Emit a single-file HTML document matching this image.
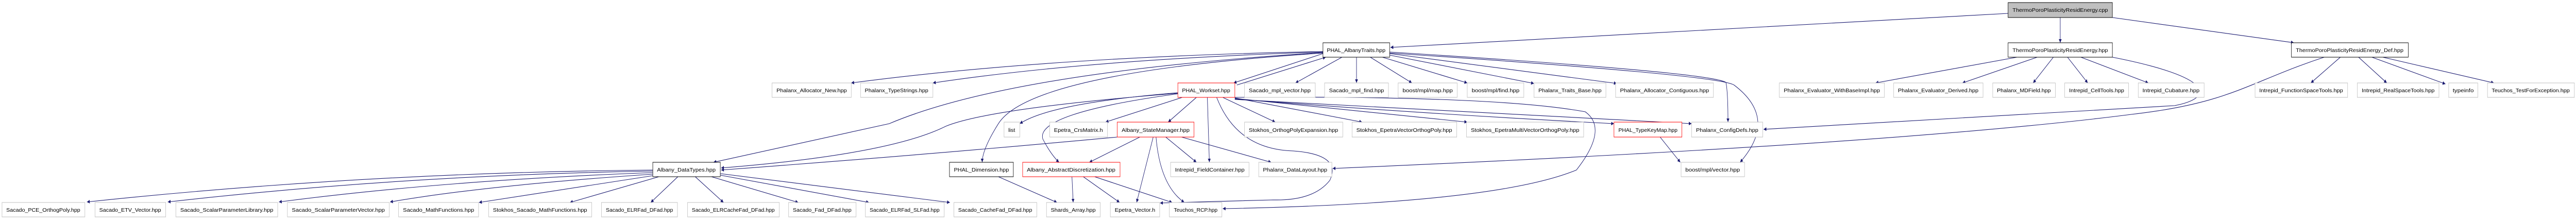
<!DOCTYPE html>
<html><head><meta charset="utf-8"><style>
html,body{margin:0;padding:0;background:#fff;width:100%;height:100%;overflow:hidden;}
svg{display:block;width:100vw;height:100vh;}
text{font-family:"Liberation Sans",sans-serif;font-size:10px;fill:#000;}
.g{fill:#fff;stroke:#bfbfbf;stroke-width:1;}
.b{fill:#fff;stroke:#000;stroke-width:1;}
.r{fill:#fff;stroke:#ff0000;stroke-width:1;}
.e{fill:none;stroke:#191970;stroke-width:1.1;marker-end:url(#a);}
</style></head><body>
<svg viewBox="0 0 6373 427" preserveAspectRatio="none" xmlns="http://www.w3.org/2000/svg">
<defs><marker id="a" viewBox="0 0 10 10" refX="10" refY="5" markerWidth="7" markerHeight="7" markerUnits="userSpaceOnUse" orient="auto"><path d="M0,0L10,5L0,10z" fill="#191970"/></marker></defs>

<path class="e" d="M4968,26 L3440,92"/>
<path class="e" d="M5097,34 L5097,83"/>
<path class="e" d="M5226,34 L5675,83"/>
<path class="e" d="M4990,111 L4640,161"/>
<path class="e" d="M5040,111 L4855,161"/>
<path class="e" d="M5080,111 L5030,161"/>
<path class="e" d="M5115,111 L5165,161"/>
<path class="e" d="M5148,111 L5315,161"/>
<path class="e" d="M5226,111 C5480,150 5480,190 5380,205 L4363,251"/>
<path class="e" d="M5750,111 C5560,160 5520,200 5273,222 Q4700,280 3297,327"/>
<path class="e" d="M5790,111 L5717,161"/>
<path class="e" d="M5835,111 L5905,161"/>
<path class="e" d="M5868,111 L6050,163"/>
<path class="e" d="M5895,111 L6170,161"/>

<path class="e" d="M3320,111 L3205,161"/>
<path class="e" d="M3356,111 L3356,161"/>
<path class="e" d="M3390,111 L3493,161"/>
<path class="e" d="M3420,111 L3630,161"/>
<path class="e" d="M3438,107 L3795,162"/>
<path class="e" d="M3438,104 L4000,162"/>
<path class="e" d="M3438,101 Q4230,140 4270,160 Q4275,180 4275,237"/>
<path class="e" d="M3438,103 Q4250,145 4290,165 Q4400,230 4305,315"/>
<path class="e" d="M3273,104 L3052,161"/>
<path class="e" d="M3060,165 L3280,111"/>
<path class="e" d="M3273,100 Q2600,110 2106,161"/>
<path class="e" d="M3273,101 Q2700,115 2308,161"/>
<path class="e" d="M3273,102 Q2500,140 2200,240 L1765,315"/>
<path class="e" d="M3273,103 Q2550,140 2470,240 Q2430,290 2430,315"/>

<path class="e" d="M2914,180 Q2600,200 2523,240"/>
<path class="e" d="M2925,189 L2735,237"/>
<path class="e" d="M2960,189 L2890,237"/>
<path class="e" d="M2987,189 L2992,315"/>
<path class="e" d="M3025,189 L3155,237"/>
<path class="e" d="M3055,190 L3370,237"/>
<path class="e" d="M3055,191 L3630,237"/>
<path class="e" d="M3055,192 Q3500,220 3993,240"/>
<path class="e" d="M3055,193 Q3500,212 4185,240"/>
<path class="e" d="M2914,182 Q2560,220 2580,270 Q2600,300 2620,315"/>
<path class="e" d="M2914,181 Q2450,210 2340,245 Q2200,300 1784,326"/>
<path class="e" d="M3010,189 Q3060,290 3200,293 Q3320,300 3290,350 Q3250,390 3150,388 L2870,394"/>
<path class="e" d="M3055,189 Q3700,185 3922,217 Q3980,250 3900,330 Q3700,395 3025,405"/>

<path class="e" d="M2764,266 Q2300,300 1784,330"/>
<path class="e" d="M2820,266 L2695,315"/>
<path class="e" d="M2853,266 L2812,393"/>
<path class="e" d="M2860,266 Q2870,360 2930,393"/>
<path class="e" d="M2884,266 L2960,315"/>
<path class="e" d="M2923,266 L3145,315"/>
<path class="e" d="M2652,343 L2655,393"/>
<path class="e" d="M2680,343 L2770,393"/>
<path class="e" d="M2708,343 L2900,393"/>
<path class="e" d="M2470,343 L2615,393"/>
<path class="e" d="M4107,266 L4157,315"/>

<path class="e" d="M1615,330 Q900,335 215,392"/>
<path class="e" d="M1615,332 Q1000,340 415,392"/>
<path class="e" d="M1615,335 Q1100,350 690,392"/>
<path class="e" d="M1615,338 Q1200,360 965,392"/>
<path class="e" d="M1615,341 L1185,393"/>
<path class="e" d="M1630,343 L1410,393"/>
<path class="e" d="M1677,343 L1610,393"/>
<path class="e" d="M1720,343 L1790,393"/>
<path class="e" d="M1760,343 L1975,393"/>
<path class="e" d="M1782,340 L2150,393"/>
<path class="e" d="M1782,337 L2350,393"/>

<rect x="4968" y="5" width="258" height="29" fill="#bfbfbf" stroke="#000"/><text x="5097" y="23" text-anchor="middle" textLength="236" lengthAdjust="spacingAndGlyphs">ThermoPoroPlasticityResidEnergy.cpp</text>
<rect class="b" x="3273" y="83" width="165" height="28"/><text x="3355" y="101" text-anchor="middle" textLength="145" lengthAdjust="spacingAndGlyphs">PHAL_AlbanyTraits.hpp</text>
<rect class="b" x="4968" y="83" width="258" height="28"/><text x="5097" y="101" text-anchor="middle" textLength="236" lengthAdjust="spacingAndGlyphs">ThermoPoroPlasticityResidEnergy.hpp</text>
<rect class="b" x="5669" y="83" width="289" height="28"/><text x="5813" y="101" text-anchor="middle" textLength="266" lengthAdjust="spacingAndGlyphs">ThermoPoroPlasticityResidEnergy_Def.hpp</text>

<rect class="g" x="1910" y="161" width="196" height="28"/><text x="2008" y="179" text-anchor="middle" textLength="174" lengthAdjust="spacingAndGlyphs">Phalanx_Allocator_New.hpp</text>
<rect class="g" x="2129" y="161" width="179" height="28"/><text x="2218" y="179" text-anchor="middle" textLength="157" lengthAdjust="spacingAndGlyphs">Phalanx_TypeStrings.hpp</text>
<rect class="r" x="2914" y="161" width="141" height="28"/><text x="2984" y="179" text-anchor="middle" textLength="119" lengthAdjust="spacingAndGlyphs">PHAL_Workset.hpp</text>
<rect class="g" x="3079" y="161" width="175" height="28"/><text x="3166" y="179" text-anchor="middle" textLength="153" lengthAdjust="spacingAndGlyphs">Sacado_mpl_vector.hpp</text>
<rect class="g" x="3277" y="161" width="158" height="28"/><text x="3356" y="179" text-anchor="middle" textLength="136" lengthAdjust="spacingAndGlyphs">Sacado_mpl_find.hpp</text>
<rect class="g" x="3459" y="161" width="146" height="28"/><text x="3532" y="179" text-anchor="middle" textLength="124" lengthAdjust="spacingAndGlyphs">boost/mpl/map.hpp</text>
<rect class="g" x="3630" y="161" width="140" height="28"/><text x="3700" y="179" text-anchor="middle" textLength="118" lengthAdjust="spacingAndGlyphs">boost/mpl/find.hpp</text>
<rect class="g" x="3795" y="161" width="178" height="28"/><text x="3884" y="179" text-anchor="middle" textLength="156" lengthAdjust="spacingAndGlyphs">Phalanx_Traits_Base.hpp</text>
<rect class="g" x="3997" y="161" width="242" height="28"/><text x="4118" y="179" text-anchor="middle" textLength="220" lengthAdjust="spacingAndGlyphs">Phalanx_Allocator_Contiguous.hpp</text>
<rect class="g" x="4402" y="161" width="260" height="28"/><text x="4532" y="179" text-anchor="middle" textLength="238" lengthAdjust="spacingAndGlyphs">Phalanx_Evaluator_WithBaseImpl.hpp</text>
<rect class="g" x="4685" y="161" width="221" height="28"/><text x="4795" y="179" text-anchor="middle" textLength="199" lengthAdjust="spacingAndGlyphs">Phalanx_Evaluator_Derived.hpp</text>
<rect class="g" x="4930" y="161" width="155" height="28"/><text x="5007" y="179" text-anchor="middle" textLength="133" lengthAdjust="spacingAndGlyphs">Phalanx_MDField.hpp</text>
<rect class="g" x="5108" y="161" width="158" height="28"/><text x="5187" y="179" text-anchor="middle" textLength="136" lengthAdjust="spacingAndGlyphs">Intrepid_CellTools.hpp</text>
<rect class="g" x="5290" y="161" width="163" height="28"/><text x="5371" y="179" text-anchor="middle" textLength="141" lengthAdjust="spacingAndGlyphs">Intrepid_Cubature.hpp</text>
<rect class="g" x="5579" y="161" width="229" height="28"/><text x="5693" y="179" text-anchor="middle" textLength="207" lengthAdjust="spacingAndGlyphs">Intrepid_FunctionSpaceTools.hpp</text>
<rect class="g" x="5832" y="161" width="202" height="28"/><text x="5933" y="179" text-anchor="middle" textLength="180" lengthAdjust="spacingAndGlyphs">Intrepid_RealSpaceTools.hpp</text>
<rect class="g" x="6058" y="161" width="72" height="28"/><text x="6094" y="179" text-anchor="middle" textLength="52" lengthAdjust="spacingAndGlyphs">typeinfo</text>
<rect class="g" x="6154" y="161" width="215" height="28"/><text x="6261" y="179" text-anchor="middle" textLength="193" lengthAdjust="spacingAndGlyphs">Teuchos_TestForException.hpp</text>

<rect class="g" x="2484" y="237" width="39" height="29"/><text x="2503" y="256" text-anchor="middle" textLength="17" lengthAdjust="spacingAndGlyphs">list</text>
<rect class="g" x="2597" y="237" width="143" height="29"/><text x="2668" y="256" text-anchor="middle" textLength="121" lengthAdjust="spacingAndGlyphs">Epetra_CrsMatrix.h</text>
<rect class="r" x="2764" y="237" width="190" height="29"/><text x="2859" y="256" text-anchor="middle" textLength="168" lengthAdjust="spacingAndGlyphs">Albany_StateManager.hpp</text>
<rect class="g" x="3079" y="237" width="243" height="29"/><text x="3200" y="256" text-anchor="middle" textLength="221" lengthAdjust="spacingAndGlyphs">Stokhos_OrthogPolyExpansion.hpp</text>
<rect class="g" x="3345" y="237" width="259" height="29"/><text x="3474" y="256" text-anchor="middle" textLength="237" lengthAdjust="spacingAndGlyphs">Stokhos_EpetraVectorOrthogPoly.hpp</text>
<rect class="g" x="3628" y="237" width="290" height="29"/><text x="3773" y="256" text-anchor="middle" textLength="268" lengthAdjust="spacingAndGlyphs">Stokhos_EpetraMultiVectorOrthogPoly.hpp</text>
<rect class="r" x="3993" y="237" width="168" height="29"/><text x="4077" y="256" text-anchor="middle" textLength="146" lengthAdjust="spacingAndGlyphs">PHAL_TypeKeyMap.hpp</text>
<rect class="g" x="4185" y="237" width="176" height="29"/><text x="4273" y="256" text-anchor="middle" textLength="154" lengthAdjust="spacingAndGlyphs">Phalanx_ConfigDefs.hpp</text>

<rect class="b" x="1615" y="315" width="167" height="28"/><text x="1698" y="333" text-anchor="middle" textLength="145" lengthAdjust="spacingAndGlyphs">Albany_DataTypes.hpp</text>
<rect class="b" x="2349" y="315" width="158" height="28"/><text x="2428" y="333" text-anchor="middle" textLength="136" lengthAdjust="spacingAndGlyphs">PHAL_Dimension.hpp</text>
<rect class="r" x="2530" y="315" width="241" height="28"/><text x="2650" y="333" text-anchor="middle" textLength="219" lengthAdjust="spacingAndGlyphs">Albany_AbstractDiscretization.hpp</text>
<rect class="g" x="2896" y="315" width="194" height="28"/><text x="2993" y="333" text-anchor="middle" textLength="172" lengthAdjust="spacingAndGlyphs">Intrepid_FieldContainer.hpp</text>
<rect class="g" x="3114" y="315" width="181" height="28"/><text x="3204" y="333" text-anchor="middle" textLength="159" lengthAdjust="spacingAndGlyphs">Phalanx_DataLayout.hpp</text>
<rect class="g" x="4159" y="315" width="157" height="28"/><text x="4237" y="333" text-anchor="middle" textLength="135" lengthAdjust="spacingAndGlyphs">boost/mpl/vector.hpp</text>

<rect class="g" x="5" y="393" width="205" height="28"/><text x="107" y="411" text-anchor="middle" textLength="183" lengthAdjust="spacingAndGlyphs">Sacado_PCE_OrthogPoly.hpp</text>
<rect class="g" x="235" y="393" width="175" height="28"/><text x="322" y="411" text-anchor="middle" textLength="153" lengthAdjust="spacingAndGlyphs">Sacado_ETV_Vector.hpp</text>
<rect class="g" x="435" y="393" width="252" height="28"/><text x="561" y="411" text-anchor="middle" textLength="230" lengthAdjust="spacingAndGlyphs">Sacado_ScalarParameterLibrary.hpp</text>
<rect class="g" x="711" y="393" width="252" height="28"/><text x="837" y="411" text-anchor="middle" textLength="230" lengthAdjust="spacingAndGlyphs">Sacado_ScalarParameterVector.hpp</text>
<rect class="g" x="986" y="393" width="198" height="28"/><text x="1085" y="411" text-anchor="middle" textLength="176" lengthAdjust="spacingAndGlyphs">Sacado_MathFunctions.hpp</text>
<rect class="g" x="1209" y="393" width="255" height="28"/><text x="1336" y="411" text-anchor="middle" textLength="233" lengthAdjust="spacingAndGlyphs">Stokhos_Sacado_MathFunctions.hpp</text>
<rect class="g" x="1488" y="393" width="188" height="28"/><text x="1582" y="411" text-anchor="middle" textLength="166" lengthAdjust="spacingAndGlyphs">Sacado_ELRFad_DFad.hpp</text>
<rect class="g" x="1701" y="393" width="227" height="28"/><text x="1814" y="411" text-anchor="middle" textLength="205" lengthAdjust="spacingAndGlyphs">Sacado_ELRCacheFad_DFad.hpp</text>
<rect class="g" x="1951" y="393" width="167" height="28"/><text x="2034" y="411" text-anchor="middle" textLength="145" lengthAdjust="spacingAndGlyphs">Sacado_Fad_DFad.hpp</text>
<rect class="g" x="2141" y="393" width="195" height="28"/><text x="2238" y="411" text-anchor="middle" textLength="173" lengthAdjust="spacingAndGlyphs">Sacado_ELRFad_SLFad.hpp</text>
<rect class="g" x="2360" y="393" width="205" height="28"/><text x="2462" y="411" text-anchor="middle" textLength="183" lengthAdjust="spacingAndGlyphs">Sacado_CacheFad_DFad.hpp</text>
<rect class="g" x="2589" y="393" width="133" height="28"/><text x="2655" y="411" text-anchor="middle" textLength="111" lengthAdjust="spacingAndGlyphs">Shards_Array.hpp</text>
<rect class="g" x="2747" y="393" width="122" height="28"/><text x="2808" y="411" text-anchor="middle" textLength="100" lengthAdjust="spacingAndGlyphs">Epetra_Vector.h</text>
<rect class="g" x="2893" y="393" width="130" height="28"/><text x="2958" y="411" text-anchor="middle" textLength="108" lengthAdjust="spacingAndGlyphs">Teuchos_RCP.hpp</text>
</svg>
</body></html>
